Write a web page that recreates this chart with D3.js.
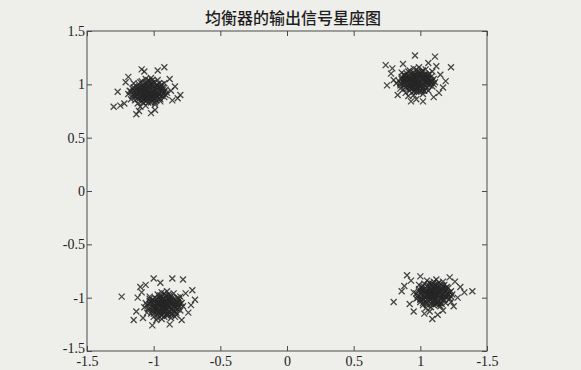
<!DOCTYPE html>
<html>
<head>
<meta charset="utf-8">
<script src="https://cdn.jsdelivr.net/npm/d3@7"></script>
<style>
  body { margin: 0; background: #efefec; }
</style>
</head>
<body>
<div id="chart"></div>
<script>
// tick labels (the last x label is printed as -1.5 in the source)
const xTicks = [-1.5, -1, -0.5, 0, 0.5, 1, 1.5];
const xTickLabels = ['-1.5', '-1', '-0.5', '0', '0.5', '1', '-1.5'];
const yTicks = [-1.5, -1, -0.5, 0, 0.5, 1, 1.5];
const yTickLabels = ['-1.5', '-1', '-0.5', '0', '0.5', '1', '1.5'];
const title = '均衡器的输出信号星座图';

// equalizer output samples per cluster
const clusterTL = [
  [-1.04,0.93],[-1.10,0.95],[-0.98,0.90],[-1.07,0.88],[-1.01,0.99],[-1.13,0.91],[-0.95,0.96],[-1.06,1.01],[-1.00,0.86],[-1.09,0.84],
  [-0.93,0.91],[-1.15,0.97],[-1.03,0.97],[-1.08,0.92],[-0.99,0.94],[-1.12,0.87],[-0.97,0.99],[-1.05,0.85],[-1.02,0.89],[-1.11,1.00],
  [-0.96,0.87],[-1.17,0.93],[-0.91,0.95],[-1.04,1.04],[-1.08,0.97],[-1.00,1.02],[-1.14,0.85],[-0.94,1.00],[-1.06,0.80],[-1.02,0.83],
  [-1.10,0.89],[-0.97,0.92],[-1.05,0.96],[-1.01,0.92],[-1.07,0.94],[-1.13,0.95],[-0.92,0.88],[-1.16,0.89],[-1.03,1.00],[-0.99,0.81],
  [-1.09,1.03],[-0.95,0.84],[-1.12,0.82],[-1.04,0.87],[-0.98,0.97],[-1.06,0.91],[-1.00,0.95],[-1.11,0.93],[-0.94,0.93],[-1.08,0.86],
  [-1.02,1.06],[-1.15,1.01],[-0.90,0.92],[-1.19,0.91],[-1.05,0.99],[-0.97,1.04],[-1.10,0.79],[-0.96,0.90],[-1.03,0.91],[-1.07,0.98],
  [-1.01,0.88],[-1.13,0.98],[-0.93,0.97],[-1.09,0.95],[-0.99,0.87],[-1.04,0.83],[-1.17,0.86],[-0.92,1.01],[-1.06,1.05],[-1.00,0.98],
  [-1.12,0.90],[-0.95,0.94],[-1.08,0.89],[-1.03,0.94],[-0.98,0.85],[-1.15,0.94],[-1.05,0.88],[-1.01,1.01],[-1.10,0.92],[-0.96,0.97],
  [-1.06,0.95],[-1.02,0.91],[-1.09,0.90],[-0.99,0.96],[-1.04,0.98],[-1.12,0.94],[-0.96,0.91],[-1.07,0.86],[-1.01,0.85],[-1.10,0.97],
  [-0.94,0.89],[-1.14,0.92],[-1.03,0.88],[-1.05,1.02],[-0.98,0.99],[-1.11,0.86],[-1.08,1.00],[-0.95,0.98],[-1.00,0.90],[-1.13,0.89],
  [-1.06,0.84],[-1.02,0.95],[-0.97,0.88],[-1.09,0.93],[-1.04,0.90],[-1.16,0.96],[-0.93,0.95],[-1.07,0.96],[-1.01,1.04],[-1.11,0.98],
  [-0.99,0.83],[-1.05,0.92],[-1.14,0.88],[-0.92,0.93],[-1.08,0.83],[-1.03,1.03],[-0.96,1.01],[-1.10,1.02],[-1.00,0.93],[-1.06,0.88],
  [-1.18,0.94],[-0.91,0.90],[-1.04,0.95],[-1.12,0.96],[-0.98,0.92],[-1.07,0.91],[-1.02,0.87],[-1.15,0.91],[-0.95,0.86],[-1.09,0.87],
  [-1.27,0.93],[-1.22,0.82],[-0.84,0.98],[-0.86,0.85],[-1.21,1.02],[-1.07,1.12],[-0.97,1.13],[-1.11,0.75],[-1.02,0.73],[-0.88,1.05],
  [-1.25,0.80],[-1.30,0.79],[-0.80,0.90],[-0.92,1.16],[-1.09,1.14],[-1.13,0.72],[-0.87,0.94],[-1.19,1.07],[-0.99,0.76],[-0.82,0.87]
];
const clusterTR = [
  [0.97,1.03],[0.91,1.05],[1.03,1.00],[0.94,0.98],[1.00,1.09],[0.88,1.01],[1.06,1.06],[0.95,1.11],[1.01,0.96],[0.92,0.94],
  [1.08,1.01],[0.86,1.07],[0.98,1.07],[0.93,1.02],[1.02,1.04],[0.89,0.97],[1.04,1.09],[0.96,0.95],[0.99,0.99],[0.90,1.10],
  [1.05,0.97],[0.84,1.03],[1.10,1.05],[0.97,1.14],[0.93,1.07],[1.01,1.12],[0.87,0.95],[1.07,1.10],[0.95,0.90],[0.99,0.93],
  [0.91,0.99],[1.04,1.02],[0.96,1.06],[1.00,1.02],[0.94,1.04],[0.88,1.05],[1.09,0.98],[0.85,0.99],[0.98,1.10],[1.02,0.91],
  [0.92,1.13],[1.06,0.94],[0.89,0.92],[0.97,0.97],[1.03,1.07],[0.95,1.01],[1.01,1.05],[0.90,1.03],[1.07,1.03],[0.93,0.96],
  [0.99,1.16],[0.86,1.11],[1.11,1.02],[0.82,1.01],[0.96,1.09],[1.04,1.14],[0.91,0.89],[1.05,1.00],[0.98,1.01],[0.94,1.08],
  [1.00,0.98],[0.88,1.08],[1.08,1.07],[0.92,1.05],[1.02,0.97],[0.97,0.93],[0.85,0.96],[1.09,1.12],[0.95,1.15],[1.01,1.08],
  [0.89,1.00],[1.06,1.04],[0.93,0.99],[0.98,1.04],[1.03,0.94],[0.87,1.04],[0.96,0.99],[1.00,1.11],[0.91,1.02],[1.05,1.08],
  [0.95,1.04],[0.99,1.01],[0.92,1.00],[1.02,1.06],[0.97,1.08],[0.89,1.04],[1.05,1.03],[0.94,0.96],[1.00,0.95],[0.91,1.07],
  [1.07,0.99],[0.87,1.02],[0.96,1.02],[0.98,1.12],[1.03,1.09],[0.90,0.96],[0.93,1.10],[1.06,1.09],[0.99,1.05],[0.86,1.05],
  [0.95,0.93],[1.01,1.00],[0.92,1.04],[1.04,0.96],[0.97,1.00],[1.09,1.03],[0.88,0.99],[0.94,1.06],[1.02,1.13],[0.90,1.08],
  [1.08,1.04],[0.96,0.97],[1.00,1.07],[0.93,1.01],[1.05,1.06],[0.85,1.01],[0.98,0.96],[0.91,1.12],[1.03,1.02],[0.95,1.09],
  [1.10,1.00],[0.88,1.09],[0.97,1.05],[1.01,0.94],[0.92,0.97],[1.06,1.01],[0.99,1.09],[0.89,1.06],[1.04,1.05],[0.94,1.03],
  [0.74,1.18],[0.75,0.99],[0.96,1.27],[1.11,1.26],[1.23,1.16],[1.17,0.97],[0.78,1.10],[0.80,1.04],[1.14,0.92],[1.12,1.17],
  [0.83,0.90],[1.02,0.84],[0.93,0.84],[1.15,1.09],[0.79,1.15],[1.06,1.20],[0.87,1.19],[1.19,1.03],[0.97,0.86],[1.10,0.88]
];
const clusterBL = [
  [-0.92,-1.07],[-0.98,-1.05],[-0.86,-1.10],[-0.95,-1.12],[-0.89,-1.01],[-1.01,-1.09],[-0.83,-1.04],[-0.94,-0.99],[-0.88,-1.14],[-0.97,-1.16],
  [-0.81,-1.09],[-1.03,-1.03],[-0.91,-1.03],[-0.96,-1.08],[-0.87,-1.06],[-1.00,-1.13],[-0.85,-1.01],[-0.93,-1.15],[-0.90,-1.11],[-0.99,-1.00],
  [-0.84,-1.13],[-1.05,-1.07],[-0.79,-1.05],[-0.92,-0.96],[-0.96,-1.03],[-0.88,-0.98],[-1.02,-1.15],[-0.82,-1.00],[-0.94,-1.20],[-0.90,-1.17],
  [-0.98,-1.11],[-0.85,-1.08],[-0.93,-1.04],[-0.89,-1.08],[-0.95,-1.06],[-1.01,-1.05],[-0.80,-1.12],[-1.04,-1.11],[-0.91,-1.00],[-0.87,-1.19],
  [-0.97,-0.97],[-0.83,-1.16],[-1.00,-1.18],[-0.92,-1.13],[-0.86,-1.03],[-0.94,-1.09],[-0.88,-1.05],[-0.99,-1.07],[-0.82,-1.07],[-0.96,-1.14],
  [-0.90,-0.94],[-1.03,-0.99],[-0.78,-1.08],[-1.07,-1.09],[-0.93,-1.01],[-0.85,-0.96],[-0.98,-1.21],[-0.84,-1.10],[-0.91,-1.09],[-0.95,-1.02],
  [-0.89,-1.16],[-1.01,-1.02],[-0.81,-1.03],[-0.97,-1.10],[-0.87,-1.11],[-0.92,-1.18],[-1.05,-1.14],[-0.80,-0.99],[-0.94,-0.95],[-0.88,-1.02],
  [-1.00,-1.10],[-0.83,-1.06],[-0.96,-1.06],[-0.91,-1.12],[-0.86,-1.15],[-1.03,-1.06],[-0.93,-1.08],[-0.89,-0.97],[-0.98,-1.03],[-0.84,-1.18],
  [-0.90,-1.06],[-0.94,-1.09],[-0.87,-1.04],[-0.97,-1.05],[-0.92,-1.01],[-0.84,-1.08],[-1.00,-1.08],[-0.89,-1.13],[-0.95,-1.15],[-0.86,-1.00],
  [-1.02,-1.04],[-0.82,-1.11],[-0.93,-1.06],[-0.91,-0.98],[-0.98,-1.13],[-0.85,-1.05],[-0.88,-1.09],[-0.96,-1.00],[-1.04,-1.10],[-0.80,-1.06],
  [-0.93,-1.11],[-0.99,-1.04],[-0.87,-1.16],[-0.91,-1.05],[-0.84,-1.02],[-1.01,-1.12],[-0.95,-0.98],[-0.89,-1.04],[-0.97,-1.19],[-0.83,-1.14],
  [-0.92,-1.10],[-1.06,-1.05],[-0.86,-1.07],[-0.94,-1.02],[-0.90,-1.15],[-0.99,-1.09],[-0.81,-1.01],[-0.96,-1.12],[-0.88,-1.00],[-1.03,-1.01],
  [-0.92,-1.04],[-0.85,-1.12],[-0.97,-1.07],[-0.90,-1.08],[-1.00,-1.15],[-0.82,-1.05],[-0.94,-1.17],[-0.87,-0.99],[-0.98,-1.01],[-0.93,-1.13],
  [-1.24,-0.99],[-1.15,-1.21],[-1.08,-1.19],[-1.01,-1.26],[-0.86,-0.82],[-0.78,-0.83],[-0.71,-0.93],[-0.69,-1.02],[-1.00,-0.82],[-1.10,-0.90],
  [-1.12,-1.00],[-0.74,-1.14],[-0.76,-0.96],[-1.06,-0.88],[-0.95,-0.86],[-0.88,-1.25],[-0.79,-1.21],[-1.13,-1.13],[-0.72,-1.07],[-1.09,-0.95]
];
const clusterBR = [
  [1.10,-0.96],[1.04,-0.94],[1.16,-0.99],[1.07,-1.01],[1.13,-0.90],[1.01,-0.98],[1.19,-0.93],[1.08,-0.88],[1.14,-1.03],[1.05,-1.05],
  [1.21,-0.98],[0.99,-0.92],[1.11,-0.92],[1.06,-0.97],[1.15,-0.95],[1.02,-1.02],[1.17,-0.89],[1.09,-1.04],[1.12,-1.00],[1.03,-0.87],
  [1.18,-1.02],[0.97,-0.96],[1.23,-0.94],[1.10,-0.85],[1.06,-0.91],[1.14,-0.86],[1.00,-1.04],[1.20,-0.90],[1.08,-1.09],[1.12,-1.06],
  [1.04,-1.00],[1.17,-0.97],[1.09,-0.93],[1.13,-0.97],[1.07,-0.95],[1.01,-0.94],[1.22,-1.01],[0.98,-1.00],[1.11,-0.88],[1.15,-1.08],
  [1.05,-0.84],[1.19,-1.05],[1.02,-1.07],[1.10,-1.02],[1.16,-0.92],[1.08,-0.98],[1.13,-0.94],[1.03,-0.96],[1.20,-0.96],[1.06,-1.03],
  [1.12,-0.83],[0.99,-0.88],[1.24,-0.97],[0.95,-0.95],[1.09,-0.90],[1.17,-0.85],[1.04,-1.10],[1.18,-0.99],[1.11,-0.98],[1.07,-0.93],
  [1.13,-1.05],[1.01,-0.90],[1.21,-0.91],[1.05,-0.98],[1.15,-1.01],[1.10,-1.07],[0.97,-1.01],[1.23,-1.04],[1.07,-0.86],[1.11,-0.95],
  [1.02,-0.93],[1.19,-0.94],[1.06,-1.00],[1.14,-0.91],[1.00,-1.01],[1.16,-1.06],[1.09,-0.97],[1.12,-0.89],[1.04,-0.97],[1.18,-0.88],
  [1.08,-0.95],[1.12,-0.98],[1.05,-0.93],[1.15,-0.93],[1.10,-1.00],[1.03,-0.99],[1.18,-0.96],[1.07,-0.90],[1.13,-1.04],[1.01,-0.96],
  [1.20,-1.00],[1.09,-0.87],[1.11,-0.94],[1.04,-1.03],[1.16,-0.88],[1.06,-0.98],[1.14,-1.07],[0.99,-0.94],[1.22,-0.95],[1.10,-1.05],
  [1.08,-0.92],[1.17,-1.02],[1.02,-0.89],[1.12,-0.91],[1.05,-1.07],[1.19,-0.91],[1.09,-1.01],[1.14,-0.99],[1.00,-1.02],[1.07,-0.97],
  [1.21,-0.97],[1.03,-0.92],[1.13,-0.87],[1.11,-1.03],[1.06,-0.94],[1.16,-0.97],[0.98,-0.98],[1.10,-0.90],[1.15,-1.05],[1.04,-0.95],
  [1.19,-0.99],[1.08,-1.06],[1.12,-0.96],[1.02,-1.05],[1.17,-0.92],[1.06,-0.88],[1.14,-0.94],[1.09,-0.98],[1.23,-0.99],[1.01,-0.92],
  [0.80,-1.04],[0.86,-0.94],[0.90,-0.79],[1.07,-1.13],[1.09,-1.20],[0.95,-1.13],[1.39,-0.94],[1.30,-0.90],[1.26,-0.85],[0.92,-1.06],
  [0.88,-0.89],[1.00,-0.80],[1.22,-0.81],[1.28,-1.00],[1.17,-1.12],[1.25,-1.08],[0.93,-0.84],[1.03,-1.15],[1.33,-0.95],[1.13,-1.16]
];

const width = 581, height = 370;
const margin = {top: 31, right: 94, bottom: 19, left: 87};

const svg = d3.select('#chart')
    .append('svg')
    .attr('width', width)
    .attr('height', height);

svg.append('rect')
    .attr('width', width)
    .attr('height', height)
    .attr('fill', '#eeeeeb');

const xScale = d3.scaleLinear()
    .domain([-1.5, 1.5])
    .range([margin.left, width - margin.right]);

const yScale = d3.scaleLinear()
    .domain([-1.5, 1.5])
    .range([height - margin.bottom, margin.top]);

const axisColor = '#4a4a4a';
const tickFont = '"Liberation Serif", "DejaVu Serif", serif';

// box
svg.append('rect')
    .attr('x', xScale(-1.5))
    .attr('y', yScale(1.5))
    .attr('width', xScale(1.5) - xScale(-1.5))
    .attr('height', yScale(-1.5) - yScale(1.5))
    .attr('fill', 'none')
    .attr('stroke', axisColor)
    .attr('stroke-width', 1);

// matlab style inward ticks on all four sides
const bottomAxis = svg.append('g')
    .attr('transform', `translate(0,${yScale(-1.5)})`)
    .call(d3.axisBottom(xScale).tickValues(xTicks).tickSizeInner(-5).tickSizeOuter(0)
        .tickFormat((d, i) => xTickLabels[i]));
const topAxis = svg.append('g')
    .attr('transform', `translate(0,${yScale(1.5)})`)
    .call(d3.axisTop(xScale).tickValues(xTicks).tickSizeInner(-5).tickSizeOuter(0).tickFormat(''));
const leftAxis = svg.append('g')
    .attr('transform', `translate(${xScale(-1.5)},0)`)
    .call(d3.axisLeft(yScale).tickValues(yTicks).tickSizeInner(-5).tickSizeOuter(0)
        .tickFormat((d, i) => yTickLabels[i]));
const rightAxis = svg.append('g')
    .attr('transform', `translate(${xScale(1.5)},0)`)
    .call(d3.axisRight(yScale).tickValues(yTicks).tickSizeInner(-5).tickSizeOuter(0).tickFormat(''));

[bottomAxis, topAxis, leftAxis, rightAxis].forEach(g => {
    g.select('.domain').remove();
    g.selectAll('line').attr('stroke', axisColor);
    g.selectAll('text')
        .style('font-family', tickFont)
        .style('font-size', '14px')
        .attr('fill', '#222');
});
bottomAxis.selectAll('text').attr('y', 5).attr('dy', '0.71em');
leftAxis.selectAll('text').attr('x', -2);
// lowest y label sits a little higher so it clears the x label under it
leftAxis.selectAll('text').filter((d, i) => i === 0).attr('dy', '0.1em');

// title
svg.append('text')
    .attr('x', 293)
    .attr('y', 24)
    .attr('text-anchor', 'middle')
    .attr('fill', '#1e1e1e')
    .style('font-family', '"Noto Sans CJK SC", sans-serif')
    .style('font-size', '16px')
    .style('font-weight', 500)
    .text(title);

// x markers
const points = [].concat(clusterTL, clusterTR, clusterBL, clusterBR);
const s = 3;
svg.append('g')
    .selectAll('.dot')
    .data(points)
    .enter()
    .append('path')
    .attr('class', 'dot')
    .attr('d', d => {
        const cx = xScale(d[0]), cy = yScale(d[1]);
        return `M${cx - s},${cy - s}L${cx + s},${cy + s}M${cx - s},${cy + s}L${cx + s},${cy - s}`;
    })
    .attr('stroke', '#262626')
    .attr('stroke-width', 1.25)
    .attr('fill', 'none')
    .style('opacity', 0.85);
</script>
</body>
</html>
